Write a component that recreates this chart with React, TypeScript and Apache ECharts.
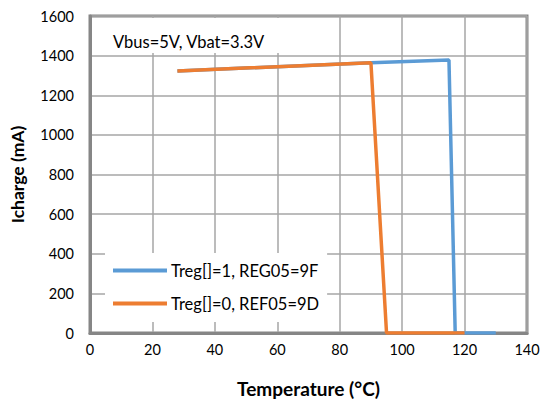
import React, { useEffect, useRef } from "react";
import * as echarts from "echarts";

const blueTemps = [28, 90, 115, 117, 130];
const blueCurrent = [1323, 1364, 1378, 0, 0];
const orangeTemps = [28, 90, 95, 120];
const orangeCurrent = [1323, 1364, 0, 0];
const blueName = "Treg[]=1, REG05=9F";
const orangeName = "Treg[]=0, REF05=9D";
const noteText = "Vbus=5V, Vbat=3.3V";

const FONT = "Lato";

export default function App() {
  const ref = useRef<HTMLDivElement>(null);
  useEffect(() => {
    if (!ref.current) return;
    document.body.style.margin = "0";
    document.body.style.overflow = "hidden";
    document.documentElement.style.overflow = "hidden";
    const chart = echarts.init(ref.current, null, { renderer: "svg" });
    const pairs = (xs: number[], ys: number[]) => xs.map((x, i) => [x, ys[i]]);
    chart.setOption({
      animation: false,
      backgroundColor: "#fff",
      textStyle: { fontFamily: FONT },
      grid: {
        left: 90,
        top: 16,
        right: 21,
        bottom: 64,
        show: true,
        borderColor: "#868686",
        borderWidth: 3,
      },
      xAxis: {
        type: "value",
        min: 0,
        max: 140,
        interval: 20,
        name: "Temperature (°C)",
        nameLocation: "middle",
        nameGap: 46,
        nameTextStyle: { fontFamily: FONT, fontWeight: "bold", fontSize: 19, color: "#000" },
        axisLine: { show: true, lineStyle: { color: "#868686", width: 3 } },
        axisTick: { show: false },
        axisLabel: { color: "#000", fontSize: 14.5, fontFamily: FONT, margin: 9 },
        splitLine: { show: true, lineStyle: { color: "#a6a6a6", width: 1.5 } },
      },
      yAxis: {
        type: "value",
        min: 0,
        max: 1600,
        interval: 200,
        name: "Icharge (mA)",
        nameLocation: "middle",
        nameGap: 64,
        nameTextStyle: { fontFamily: FONT, fontWeight: "bold", fontSize: 17.5, color: "#000" },
        axisLine: { show: true, lineStyle: { color: "#868686", width: 3 } },
        axisTick: { show: false },
        axisLabel: {
          color: "#000",
          fontSize: 14.5,
          fontFamily: FONT,
          margin: 16,
          formatter: (v: number) => String(v),
        },
        splitLine: { show: true, lineStyle: { color: "#a6a6a6", width: 1.5 } },
      },
      legend: {
        orient: "vertical",
        left: 105,
        top: 253,
        width: 234,
        padding: [9, 8, 10, 8],
        itemGap: 16,
        itemWidth: 54,
        itemHeight: 4,
        icon: "rect",
        backgroundColor: "#fff",
        textStyle: { fontFamily: FONT, fontSize: 16.5, color: "#000", padding: [0, 0, 0, -1] },
        data: [blueName, orangeName],
      },
      graphic: [
        {
          type: "rect",
          z: 1,
          shape: { x: 92, y: 18, width: 198, height: 35 },
          style: { fill: "#fff" },
        },
        {
          type: "text",
          z: 2,
          x: 113,
          y: 42,
          style: {
            text: noteText,
            fontFamily: FONT,
            fontSize: 16.5,
            fill: "#000",
            verticalAlign: "middle",
          },
        },
      ],
      series: [
        {
          name: blueName,
          type: "line",
          data: pairs(blueTemps, blueCurrent),
          showSymbol: false,
          symbol: "none",
          lineStyle: { color: "#5B9BD5", width: 3.5 },
          itemStyle: { color: "#5B9BD5" },
          z: 3,
        },
        {
          name: orangeName,
          type: "line",
          data: pairs(orangeTemps, orangeCurrent),
          showSymbol: false,
          symbol: "none",
          lineStyle: { color: "#ED7D31", width: 3.5 },
          itemStyle: { color: "#ED7D31" },
          z: 4,
        },
      ],
    });
    return () => chart.dispose();
  }, []);
  return (
    <div
      ref={ref}
      style={{ width: 548, height: 403, position: "absolute", left: 0, top: 0, overflow: "hidden" }}
    />
  );
}
